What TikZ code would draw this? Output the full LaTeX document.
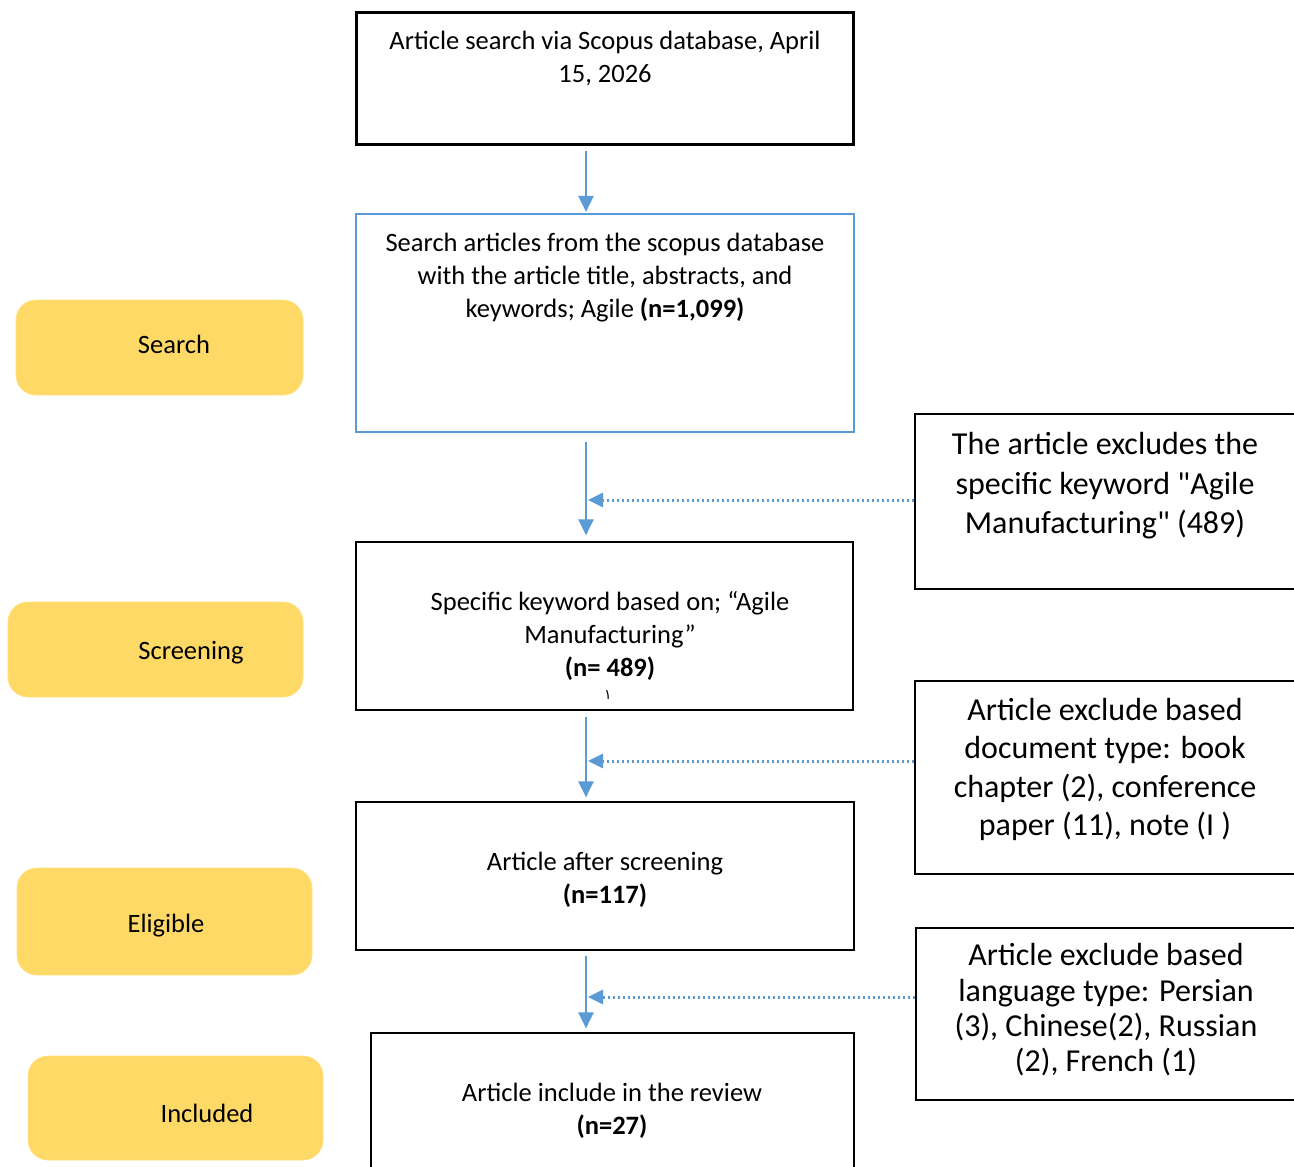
\documentclass[tikz,border=0pt]{standalone}
\usepackage{fontspec}
\setmainfont{Carlito}[Ligatures=TeXOff]
\newfontfamily\arabicfont[Script=Arabic]{DejaVu Sans}
\usetikzlibrary{arrows.meta,calc}
\definecolor{flowblue}{HTML}{5B9BD5}
\definecolor{stageyellow}{HTML}{FFD966}
\tikzset{
  x=1pt,y=-1pt,
  box/.style={draw=black,line width=1.2pt,fill=white,inner sep=0pt,rectangle},
  stage/.style={fill=stageyellow,draw=stageyellow!80!white,line width=0.8pt,rounded corners=20pt,inner sep=0pt},
  stagetext/.style={font=\fontsize{26.5}{30}\selectfont,inner sep=0pt},
  boxtext/.style={align=center,inner sep=0pt,font=\fontsize{26.5}{33}\selectfont},
  sidetext/.style={align=center,inner sep=0pt,font=\fontsize{32}{39.5}\selectfont},
  flow/.style={draw=flowblue,line width=2.6pt,-{Triangle[width=15pt,length=16pt]}},
  dotflow/.style={draw=flowblue,line width=3pt,dash pattern=on 2.6pt off 2.4pt,-{Triangle[width=14pt,length=15pt]}}
}
\begin{document}
\begin{tikzpicture}
\useasboundingbox (0,0) rectangle (1294,1167);
\clip (0,0) rectangle (1294,1167);
\fill[white] (0,0) rectangle (1294,1167);

% main column boxes
\node[box,line width=2.6pt,minimum width=497pt,minimum height=132pt] (b1) at (605,78.5) {};
\node[boxtext] (t1) at (605,58) {Article search via Scopus database, April\\15, 2026};

\node[box,draw=flowblue,line width=2.2pt,minimum width=498pt,minimum height=218pt] (b2) at (605,323) {};
\node[boxtext] (t2) at (605,277.5) {Search articles from the scopus database\\with the article title, abstracts, and\\keywords; Agile \textbf{(n=1,099)}};

\node[box,minimum width=497pt,minimum height=168pt] (b3) at (604.5,626) {};
\node[boxtext] (t3) at (610,635.5) {Specific keyword based on; “Agile\\Manufacturing”\\\textbf{(n= 489)}};
\node[inner sep=0pt,font=\arabicfont\fontsize{14}{14}\selectfont] (t3m) at (608,695) {١};

\node[box,minimum width=498pt,minimum height=148pt] (b4) at (605,876) {};
\node[boxtext] (t4) at (605,880) {Article after screening\\\textbf{(n=117)}};

\node[box,minimum width=483pt,minimum height=160pt] (b5) at (612.5,1113) {};
\node[boxtext] (t5) at (612,1110.5) {Article include in the review\\\textbf{(n=27)}};

% side exclusion boxes
\node[box,minimum width=400pt,minimum height=175pt] (e1) at (1115,501.5) {};
\node[sidetext] (s1) at (1105,486) {The article excludes the\\specific keyword "Agile\\Manufacturing" (489)};

\node[box,minimum width=400pt,minimum height=193pt] (e2) at (1115,777.5) {};
\node[sidetext,font=\fontsize{32}{38.3}\selectfont] (s2) at (1105,769.5) {Article exclude based\\document type: book\\chapter (2), conference\\paper (11), note (I )};

\node[box,minimum width=400pt,minimum height=172pt] (e3) at (1116,1014) {};
\node[sidetext,font=\fontsize{32}{35.3}\selectfont] (s3) at (1106,1010) {Article exclude based\\language type: Persian\\(3), Chinese(2), Russian\\(2), French (1)};

% stage labels
\node[stage,minimum width=287pt,minimum height=95pt] (g1) at (159.5,347.5) {};
\node[stagetext] (h1) at (174,344) {Search};
\node[stage,minimum width=295pt,minimum height=95pt] (g2) at (155.5,649.5) {};
\node[stagetext] (h2) at (191,653) {Screening};
\node[stage,minimum width=295pt,minimum height=107pt] (g3) at (164.5,921.5) {};
\node[stagetext] (h3) at (166,926) {Eligible};
\node[stage,minimum width=295pt,minimum height=104pt] (g4) at (175.5,1108) {};
\node[stagetext] (h4) at (207,1113) {Included};

% connectors
\coordinate (a1s) at ($(b1.south)+(-19,5)$);
\coordinate (a1e) at ($(b2.north)+(-19,-1)$);
\draw[flow] (a1s) -- (a1e);
\coordinate (a2s) at ($(b2.south)+(-19,9)$);
\coordinate (a2e) at ($(b3.north)+(-18.5,-6)$);
\draw[flow] (a2s) -- (a2e);
\coordinate (a3s) at ($(b3.south)+(-18.5,6)$);
\coordinate (a3e) at ($(b4.north)+(-19,-4)$);
\draw[flow] (a3s) -- (a3e);
\coordinate (a4s) at ($(b4.south)+(-19,5)$);
\coordinate (a4e) at ($(b5.north)+(-26.5,-4)$);
\draw[flow] (a4s) -- (a4e);

\coordinate (d1) at (588,500);
\draw[dotflow] (e1.west |- d1) -- (d1);
\coordinate (d2) at (588,761);
\draw[dotflow] (e2.west |- d2) -- (d2);
\coordinate (d3) at (588,997);
\draw[dotflow] (e3.west |- d3) -- (d3);
\end{tikzpicture}
\end{document}
